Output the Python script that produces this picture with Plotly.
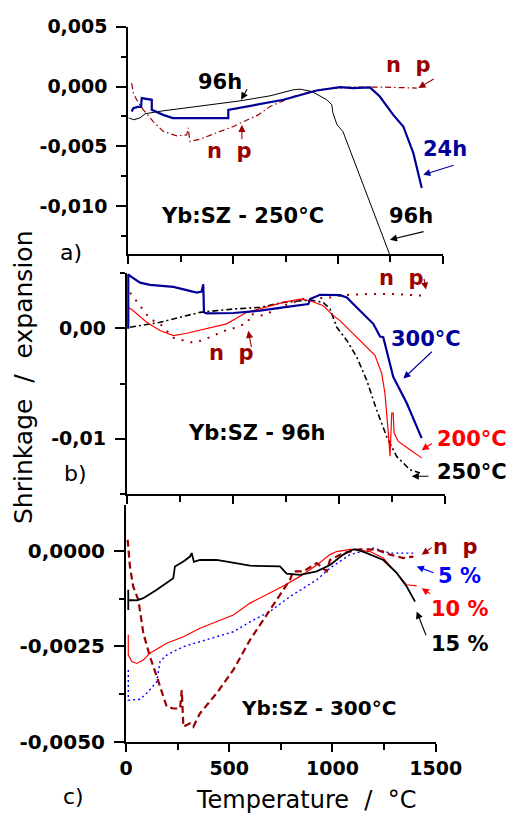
import plotly.graph_objects as go

W, H = 513, 816

# ---------------- Panel a) Yb:SZ - 250°C ----------------
a_T_96h = [1, 27, 56, 80, 151, 342, 533, 676, 786, 820, 876, 947, 971, 976, 996, 1024, 1248, 1257]
a_v_96h = [-0.00262, -0.00278, -0.00262, -0.00228, -0.00207, -0.00166, -0.0012, -0.00078, -0.00028,
           -0.00022, -0.00042, -0.00111, -0.00153, -0.0022, -0.0032, -0.00376, -0.0139, -0.0145]
a_T_24h = [16, 24, 46, 61, 64, 112, 112, 166, 213, 477, 477, 628, 740, 899, 1010, 1073, 1153, 1200,
           1264, 1312, 1360, 1400]
a_v_24h = [-0.00209, -0.00181, -0.0017, -0.0017, -0.00097, -0.00111, -0.00195, -0.00237, -0.00264,
           -0.00264, -0.00195, -0.00145, -0.00111, -0.00033, -0.00005, -0.00013, -0.00008, -0.00084,
           -0.00237, -0.00334, -0.00557, -0.00849]
a_T_np = [16, 24, 40, 72, 119, 167, 231, 279, 286, 294, 342, 422, 501, 581, 620, 676, 787, 899, 994,
          1058, 1217, 1376]
a_v_np = [0.00028, -0.00055, -0.00111, -0.00195, -0.00293, -0.00376, -0.00412, -0.00404, -0.00345,
          -0.0046, -0.0044, -0.0039, -0.00334, -0.00268, -0.00237, -0.00167, -0.00084, -0.00028,
          -0.00013, -0.00005, -0.00005, -0.00013]

# ---------------- Panel b) Yb:SZ - 96h ----------------
b_T_300 = [7.5, 7.5, 15.6, 63, 110, 220, 283, 330, 353, 361, 364, 377, 502, 628, 738, 856, 864, 911,
           1005, 1037, 1100, 1162, 1194, 1209, 1256, 1320, 1390]
b_v_300 = [-0.00005, 0.00489, 0.00473, 0.00413, 0.00393, 0.00375, 0.00345, 0.00323, 0.00332, 0.00399,
           0.00144, 0.00135, 0.00138, 0.00159, 0.00189, 0.00219, 0.00264, 0.00303, 0.003, 0.00279,
           0.00159, 0.0004, -0.00075, -0.00081, -0.0044, -0.00679, -0.00994]
b_T_200 = [7.5, 7.5, 31, 94, 157, 220, 283, 377, 471, 566, 738, 817, 864, 926, 974, 1005, 1068, 1131,
           1170, 1202, 1217, 1233, 1241, 1249, 1256, 1260, 1280, 1335, 1390]
b_v_200 = [0.0, 0.00189, 0.00159, 0.00054, -0.00021, -0.00066, -0.00045, -0.00005, 0.0004, 0.00144,
           0.00234, 0.00264, 0.00249, 0.00204, 0.00114, 0.00069, -0.0005, -0.00171, -0.00245, -0.0041,
           -0.00589, -0.00949, -0.01159, -0.00769, -0.00769, -0.00949, -0.01024, -0.01099, -0.01173]
b_T_250 = [15.6, 157, 345, 502, 628, 738, 864, 926, 958, 990, 1037, 1084, 1131, 1178, 1225, 1272, 1335,
           1382]
b_v_250 = [0.00009, 0.00054, 0.00144, 0.00174, 0.00189, 0.00234, 0.00255, 0.00234, 0.00174, 0.00009,
           -0.0011, -0.0026, -0.0047, -0.0074, -0.0098, -0.0116, -0.0128, -0.0131]
b_T_np = [16, 63, 110, 157, 220, 298, 330, 393, 455, 518, 573, 581, 644, 738, 832, 958, 1021, 1131,
          1272, 1398]
b_v_np = [0.00323, 0.00204, 0.00084, 0.0004, -0.00086, -0.00126, -0.00126, -0.00081, -0.00027, 0.00009,
          0.00054, 0.00129, 0.00114, 0.00204, 0.00264, 0.00279, 0.003, 0.00309, 0.00309, 0.00294]

# ---------------- Panel c) Yb:SZ - 300°C ----------------
c_T_15 = [11, 11, 11, 52, 84, 149, 229, 237, 278, 310, 318, 329, 358, 439, 520, 601, 746, 778, 843, 924,
          988, 1052, 1101, 1117, 1166, 1246, 1311, 1360, 1400]
c_v_15 = [-0.00102, -0.00155, -0.00129, -0.0013, -0.00124, -0.00102, -0.00072, -0.00041, -0.00028,
          -0.00015, -0.00006, -0.00029, -0.00024, -0.00024, -0.00032, -0.00039, -0.00041, -0.0006,
          -0.00063, -0.00054, -0.00037, -0.0001, 0.00004, 0.00004, -0.00006, -0.00024, -0.00058,
          -0.00094, -0.00133]
c_T_10 = [11, 11, 28, 52, 84, 116, 197, 278, 358, 439, 520, 601, 762, 843, 924, 988, 1020, 1085, 1182,
          1246, 1311, 1360, 1408]
c_v_10 = [-0.0022, -0.00273, -0.0029, -0.00295, -0.00286, -0.00268, -0.00242, -0.00225, -0.00203,
          -0.00185, -0.00168, -0.00137, -0.00092, -0.00067, -0.00037, -0.0001, -0.00002, 0.00004,
          -0.00002, -0.00019, -0.00058, -0.00089, -0.00092]
c_T_5 = [11, 11, 68, 100, 149, 165, 197, 278, 358, 439, 520, 601, 697, 794, 924, 988, 1085, 1198, 1279,
         1391]
c_v_5 = [-0.00312, -0.00391, -0.00389, -0.00373, -0.00343, -0.0029, -0.00273, -0.00251, -0.00238,
         -0.00225, -0.00212, -0.00186, -0.00159, -0.0012, -0.00076, -0.00045, -0.0001, 0.00007,
         -0.00006, -0.00006]
c_T_np = [8, 19, 35, 60, 84, 116, 149, 197, 229, 262, 270, 278, 310, 326, 358, 439, 520, 601, 697, 794,
          810, 859, 924, 972, 988, 1052, 1133, 1214, 1279, 1343, 1392]
c_v_np = [0.00029, -0.00041, -0.00094, -0.00129, -0.00216, -0.00277, -0.00329, -0.00408, -0.00413,
          -0.00413, -0.00365, -0.00461, -0.00452, -0.00461, -0.00426, -0.00373, -0.00312, -0.00233,
          -0.00155, -0.00076, -0.00054, -0.00054, -0.00032, -0.00054, -0.00024, -0.00006, 0.00004,
          0.00003, -0.0001, -0.00019, -0.00015]

# ---------------- Tick labels ----------------
x_tickvals = [0, 500, 1000, 1500]
x_ticktext = ["0", "500", "1000", "1500"]
a_tickvals = [0.005, 0.0, -0.005, -0.010]
a_ticktext = ["0,005", "0,000", "-0,005", "-0,010"]
b_tickvals = [0.0, -0.01]
b_ticktext = ["0,00", "-0,01"]
c_tickvals = [0.0, -0.0025, -0.005]
c_ticktext = ["0,0000", "-0,0025", "-0,0050"]

NAVY = "#000099"
DRED = "#9b0000"
RED = "#ff0000"
BLUE = "#0000ff"
FONT = "DejaVu Sans"

# panel geometry in page pixels: (x0, x1, y_top, y_bottom, y range)
GEOM = {
    "a": (128.3, 442.7, 26.7, 254.0, [-0.014, 0.005]),
    "b": (126.7, 445.0, 273.0, 494.0, [-0.015, 0.005]),
    "c": (126.0, 435.7, 505.0, 741.7, [-0.005, 0.0012]),
}
XR = [0, 1500]

fig = go.Figure()

def line(xa, ya, T, v, color, width, dash="solid"):
    fig.add_trace(go.Scatter(x=T, y=v, mode="lines", xaxis=xa, yaxis=ya,
                             line=dict(color=color, width=width, dash=dash),
                             showlegend=False, hoverinfo="skip"))

# panel a
line("x", "y", a_T_np, a_v_np, DRED, 1.2, "6px,3px,1.5px,3px")
line("x", "y", a_T_96h, a_v_96h, "black", 1)
line("x", "y", a_T_24h, a_v_24h, NAVY, 2.2)
# panel b
line("x2", "y2", b_T_np, b_v_np, DRED, 2, "2px,7px")
line("x2", "y2", b_T_250, b_v_250, "black", 1.6, "6px,3px,2px,3px")
line("x2", "y2", b_T_200, b_v_200, RED, 1.2)
line("x2", "y2", b_T_300, b_v_300, NAVY, 2.2)
# panel c
line("x3", "y3", c_T_5, c_v_5, BLUE, 1.4, "2px,3px")
line("x3", "y3", c_T_10, c_v_10, RED, 1.2)
line("x3", "y3", c_T_np, c_v_np, DRED, 2.2, "7px,4px")
line("x3", "y3", c_T_15, c_v_15, "black", 1.8)

def px_x(p):
    return p / W

def px_y(p):
    return 1 - p / H

def xaxis_cfg(g, anchor, labels):
    x0, x1 = GEOM[g][0], GEOM[g][1]
    return dict(domain=[px_x(x0), px_x(x1)], range=XR, anchor=anchor, automargin=False,
                showline=True, linecolor="black", linewidth=2, showgrid=False, zeroline=False,
                ticks="outside", ticklen=8, tickwidth=1.5, tickcolor="black",
                tickmode="array", tickvals=x_tickvals, ticktext=x_ticktext,
                showticklabels=labels,
                tickfont=dict(family=FONT, size=19, color="black", weight="bold"),
                minor=dict(ticks="outside", ticklen=6, tickwidth=1.5, tickcolor="black",
                           tickvals=[250, 750, 1250]))

def yaxis_cfg(g, anchor, tv, tt, minor_vals, fs):
    _, _, y0, y1, rng = GEOM[g]
    return dict(domain=[px_y(y1), px_y(y0)], range=rng, anchor=anchor, automargin=False,
                showline=True, linecolor="black", linewidth=2, showgrid=False, zeroline=False,
                ticks="outside", ticklen=10, tickwidth=1.5, tickcolor="black",
                tickmode="array", tickvals=tv, ticktext=tt, ticklabelstandoff=5,
                tickfont=dict(family=FONT, size=fs, color="black", weight="bold"),
                minor=dict(ticks="outside", ticklen=5, tickwidth=1.5, tickcolor="black",
                           tickvals=minor_vals))

fig.update_layout(
    width=W, height=H, margin=dict(l=0, r=0, t=0, b=0, pad=0, autoexpand=False),
    paper_bgcolor="white", plot_bgcolor="white", showlegend=False,
    xaxis=xaxis_cfg("a", "y", False),
    yaxis=yaxis_cfg("a", "x", a_tickvals, a_ticktext, [0.0025, -0.0025, -0.0075, -0.0125], 19),
    xaxis2=xaxis_cfg("b", "y2", False),
    yaxis2=yaxis_cfg("b", "x2", b_tickvals, b_ticktext, [0.005, -0.005, -0.015], 19),
    xaxis3=xaxis_cfg("c", "y3", True),
    yaxis3=yaxis_cfg("c", "x3", c_tickvals, c_ticktext, [-0.00125, -0.00375], 20),
)

ann = []

def to_paper(g, T, v):
    x0, x1, yt, yb, rng = GEOM[g]
    px = x0 + (T - XR[0]) / (XR[1] - XR[0]) * (x1 - x0)
    py = yb - (v - rng[0]) / (rng[1] - rng[0]) * (yb - yt)
    return px_x(px), px_y(py)

AX = {"a": ("x", "y"), "b": ("x2", "y2"), "c": ("x3", "y3")}

def text(g, T, v, s, color, size=21):
    xp, yp = to_paper(g, T, v)
    ann.append(dict(xref="paper", yref="paper", x=xp, y=yp, text=s, showarrow=False,
                    font=dict(family=FONT, size=size, color=color, weight="bold"),
                    xanchor="center", yanchor="middle"))

def arrow(g, T0, v0, T1, v1, color):
    xa, ya = AX[g]
    ann.append(dict(xref=xa, yref=ya, axref=xa, ayref=ya,
                    x=T1, y=v1, ax=T0, ay=v0, text="", showarrow=True,
                    arrowhead=2, arrowsize=1.3, arrowwidth=1.1, arrowcolor=color,
                    standoff=0, startstandoff=0))

# panel a annotations
text("a", 437, 0.0004, "96h", "black")
arrow("a", 571, -0.0001, 538, -0.0011, "black")
text("a", 481, -0.0054, "n  p", DRED)
arrow("a", 542, -0.00454, 542, -0.0032, DRED)
text("a", 1336, 0.0018, "n  p", DRED)
arrow("a", 1464, 0.0007, 1384, -0.00013, DRED)
text("a", 1511, -0.0052, "24h", NAVY)
arrow("a", 1559, -0.00654, 1407, -0.00738, NAVY)
text("a", 1349, -0.0108, "96h", "black")
arrow("a", 1416, -0.0121, 1248, -0.0128, "black")
text("a", 543, -0.0108, "Yb:SZ - 250°C", "black")

# panel b annotations
text("b", 496, -0.00227, "n  p", DRED)
arrow("b", 589, -0.00185, 573, -0.00023, DRED)
text("b", 1297, 0.00456, "n  p", DRED)
arrow("b", 1400, 0.0046, 1410, 0.0035, DRED)
text("b", 1411, -0.001, "300°C", NAVY)
arrow("b", 1445, -0.002, 1304, -0.00455, NAVY)
text("b", 1627, -0.01006, "200°C", RED)
arrow("b", 1445, -0.01033, 1390, -0.01105, RED)
text("b", 1627, -0.0130, "250°C", "black")
arrow("b", 1429, -0.01339, 1343, -0.01339, "black")
text("b", 613, -0.00946, "Yb:SZ - 96h", "black")

# panel c annotations
text("c", 1598, 0.00009, "n  p", DRED)
arrow("c", 1488, 0.00011, 1432, -0.0001, DRED)
text("c", 1613, -0.00066, "5 %", BLUE)
arrow("c", 1497, -0.00059, 1408, -0.00041, BLUE)
text("c", 1618, -0.00152, "10 %", RED)
arrow("c", 1480, -0.00115, 1432, -0.00098, RED)
text("c", 1618, -0.00243, "15 %", "black")
arrow("c", 1456, -0.00225, 1408, -0.00159, "black")
text("c", 930, -0.00413, "Yb:SZ - 300°C", "black", 20)

# panel letters and axis titles (paper coords)
def ptext(px, py, s, size, angle=0):
    ann.append(dict(xref="paper", yref="paper", x=px_x(px), y=px_y(py), text=s,
                    showarrow=False, textangle=angle,
                    font=dict(family=FONT, size=size, color="black"),
                    xanchor="center", yanchor="middle"))

ptext(71, 252, "a)", 22)
ptext(75, 473, "b)", 22)
ptext(73, 796, "c)", 22)
ptext(306, 800, "Temperature  /  °C", 24)
ptext(23, 378, "Shrinkage  /  expansion", 25, -90)

fig.update_layout(annotations=ann)
fig.write_html("out.html", config={"displayModeBar": False},
               post_script="document.body.style.margin='0';document.body.style.overflow='hidden';")
